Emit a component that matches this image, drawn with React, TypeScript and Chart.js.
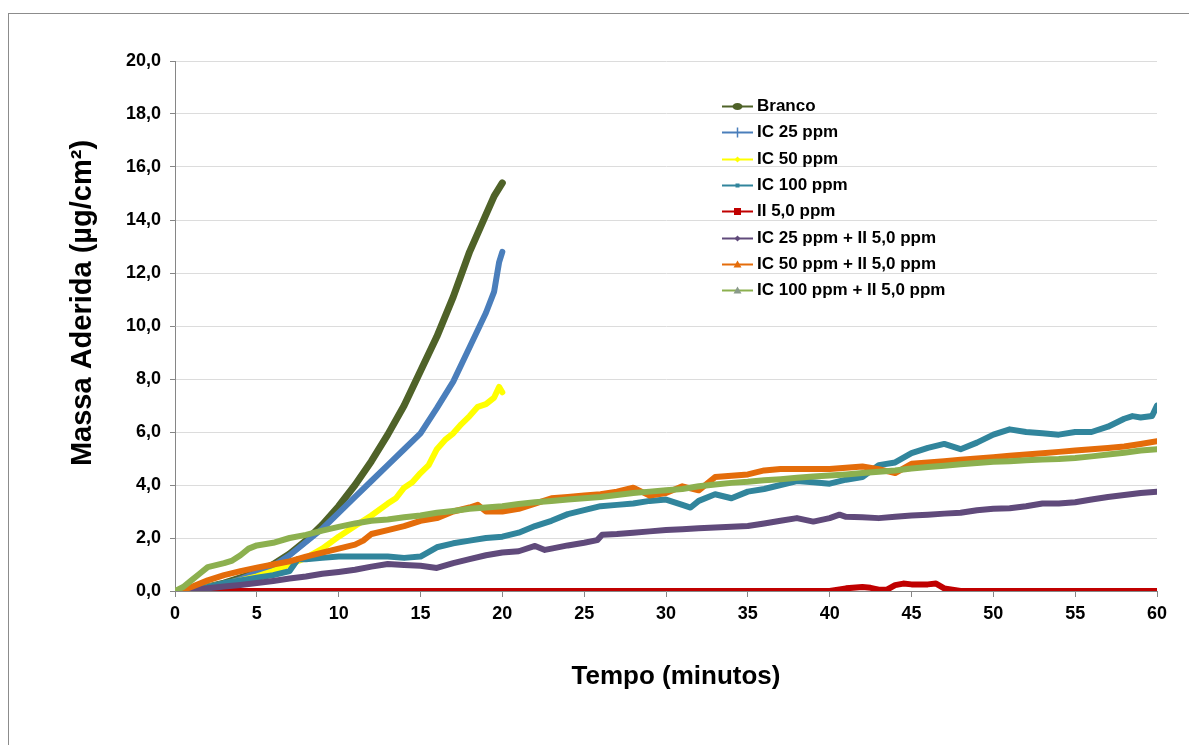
import React, { useEffect, useRef } from "react";
import { Chart, registerables } from "chart.js";

Chart.register(...registerables);

const FONT = "'Liberation Sans', Arial, Helvetica, sans-serif";
const W = 1181;
const H = 737;

// ---- data (minutes, µg/cm²) ----
const seriesLabels = [
  "Branco",
  "IC 25 ppm",
  "IC 50 ppm",
  "IC 100 ppm",
  "II 5,0 ppm",
  "IC 25 ppm + II 5,0 ppm",
  "IC 50 ppm + II 5,0 ppm",
  "IC 100 ppm + II 5,0 ppm",
];

const brancoT = [0.5, 1, 2, 3, 4, 5, 6, 7, 8, 9, 10, 11, 12, 13, 14, 15, 16, 17, 18, 19, 19.5, 20];
const brancoV = [0, 0.05, 0.15, 0.3, 0.5, 0.7, 1.0, 1.4, 1.9, 2.5, 3.2, 4.0, 4.9, 5.9, 7.0, 8.3, 9.6, 11.1, 12.8, 14.2, 14.9, 15.4];

const ic25T = [0.7, 1, 2, 3, 4, 5, 6, 7, 8, 9, 10, 11, 12, 13, 14, 15, 16, 17, 18, 19, 19.5, 19.8, 20];
const ic25V = [-0.15, -0.05, 0.1, 0.25, 0.45, 0.7, 0.95, 1.35, 1.85, 2.35, 2.95, 3.55, 4.15, 4.75, 5.35, 5.95, 6.9, 7.9, 9.2, 10.5, 11.3, 12.4, 12.8];

const ic50T = [0.5, 1, 2, 3, 4, 5, 6, 7, 8, 9, 10, 11, 12, 13, 13.5, 14, 14.5, 15, 15.5, 16, 16.5, 17, 17.5, 18, 18.5, 19, 19.5, 19.8, 20];
const ic50V = [0, 0.05, 0.15, 0.28, 0.4, 0.55, 0.75, 1.0, 1.25, 1.6, 2.05, 2.45, 2.85, 3.3, 3.5, 3.9, 4.1, 4.45, 4.75, 5.35, 5.7, 5.95, 6.3, 6.6, 6.95, 7.05, 7.3, 7.7, 7.5];

const ic100T = [0, 1, 2, 3, 4, 5, 6, 7, 7.5, 8, 9, 10, 11, 12, 13, 14, 15, 16, 17, 18, 19, 20, 21, 22, 23, 24, 25, 26, 27, 28, 29, 30, 31, 31.5, 32, 33, 34, 35, 36, 37, 38, 39, 40, 41, 42, 43, 44, 45, 46, 47, 48, 49, 50, 51, 52, 53, 54, 55, 56, 57, 58, 58.5, 59, 59.7, 60];
const ic100V = [0, 0.05, 0.15, 0.3, 0.4, 0.5, 0.6, 0.75, 1.2, 1.2, 1.25, 1.3, 1.3, 1.3, 1.3, 1.25, 1.3, 1.65, 1.8, 1.9, 2.0, 2.05, 2.2, 2.45, 2.65, 2.9, 3.05, 3.2, 3.25, 3.3, 3.4, 3.45, 3.25, 3.15, 3.4, 3.65, 3.5, 3.75, 3.85, 4.0, 4.15, 4.1, 4.05, 4.2, 4.3, 4.75, 4.85, 5.2, 5.4, 5.55, 5.35, 5.6, 5.9, 6.1, 6.0, 5.95, 5.9, 6.0, 6.0, 6.2, 6.5, 6.6, 6.55, 6.6, 7.0];

const ii5T = [0, 40, 40.5, 41, 42, 42.5, 43, 43.5, 44, 44.5, 45, 46, 46.5, 47, 47.5, 48, 60];
const ii5V = [0, 0, 0.05, 0.1, 0.15, 0.12, 0.05, 0.05, 0.22, 0.28, 0.25, 0.25, 0.28, 0.1, 0.05, 0, 0];

const ic25iiT = [0.5, 1, 2, 3, 4, 5, 6, 7, 8, 9, 10, 11, 12, 13, 14, 15, 16, 17, 18, 19, 20, 21, 22, 22.6, 23, 24, 25, 25.8, 26.1, 27, 28, 29, 30, 31, 32, 33, 34, 35, 36, 37, 38, 39, 40, 40.6, 41, 42, 43, 44, 45, 46, 47, 48, 49, 50, 51, 52, 53, 54, 55, 56, 57, 58, 59, 60];
const ic25iiV = [0, 0.03, 0.1, 0.17, 0.23, 0.3, 0.38, 0.47, 0.55, 0.65, 0.72, 0.8, 0.92, 1.02, 0.98, 0.95, 0.87, 1.05, 1.2, 1.35, 1.45, 1.5, 1.7, 1.55, 1.6, 1.72, 1.82, 1.92, 2.12, 2.15, 2.2, 2.25, 2.3, 2.33, 2.37, 2.4, 2.42, 2.45, 2.55, 2.65, 2.75, 2.62, 2.75, 2.88, 2.8, 2.78, 2.75, 2.8, 2.85, 2.88, 2.92, 2.95, 3.05, 3.1, 3.12, 3.2, 3.3, 3.3, 3.35, 3.45, 3.55, 3.62, 3.7, 3.75];

const ic50iiT = [0.3, 1, 2, 3, 4, 5, 6, 7, 8, 9, 10, 11, 11.5, 12, 13, 14, 15, 16, 17, 18, 18.5, 19, 20, 21, 22, 23, 24, 25, 26, 27, 28, 29, 30, 31, 32, 33, 34, 35, 36, 37, 38, 39, 40, 41, 42, 43, 44, 45, 46, 47, 48, 49, 50, 51, 52, 53, 54, 55, 56, 57, 58, 59, 60];
const ic50iiV = [0, 0.15, 0.4, 0.6, 0.75, 0.88, 1.0, 1.12, 1.3, 1.45, 1.6, 1.75, 1.9, 2.15, 2.3, 2.45, 2.65, 2.75, 3.0, 3.15, 3.25, 3.0, 3.0, 3.1, 3.3, 3.5, 3.55, 3.6, 3.65, 3.75, 3.9, 3.6, 3.7, 3.95, 3.8, 4.3, 4.35, 4.4, 4.55, 4.6, 4.6, 4.6, 4.6, 4.65, 4.7, 4.6, 4.45, 4.8, 4.85, 4.9, 4.95, 5.0, 5.05, 5.1, 5.15, 5.2, 5.25, 5.3, 5.35, 5.4, 5.45, 5.55, 5.65];

const ic100iiT = [0, 0.5, 1, 1.5, 2, 3, 3.5, 4, 4.5, 5, 6, 7, 8, 9, 10, 11, 12, 13, 14, 15, 16, 17, 18, 19, 20, 21, 22, 23, 24, 25, 26, 27, 28, 29, 30, 31, 32, 33, 34, 35, 36, 37, 38, 39, 40, 41, 42, 43, 44, 45, 46, 47, 48, 49, 50, 51, 52, 53, 54, 55, 56, 57, 58, 59, 60];
const ic100iiV = [0, 0.15, 0.4, 0.65, 0.9, 1.05, 1.15, 1.35, 1.6, 1.72, 1.82, 2.0, 2.12, 2.28, 2.42, 2.55, 2.65, 2.7, 2.78, 2.85, 2.95, 3.02, 3.1, 3.15, 3.2, 3.28, 3.35, 3.4, 3.45, 3.5, 3.55, 3.62, 3.7, 3.75, 3.8, 3.85, 3.95, 4.02, 4.08, 4.12, 4.18, 4.22, 4.27, 4.32, 4.36, 4.4, 4.45, 4.5, 4.55, 4.62, 4.68, 4.73, 4.78, 4.83, 4.88, 4.9, 4.93, 4.96, 4.98, 5.02, 5.08, 5.15, 5.22, 5.3, 5.35];

const seriesTimes = [brancoT, ic25T, ic50T, ic100T, ii5T, ic25iiT, ic50iiT, ic100iiT];
const seriesValues = [brancoV, ic25V, ic50V, ic100V, ii5V, ic25iiV, ic50iiV, ic100iiV];

const xTickStep = 5;
const yTickStep = 2;

// ---- styles ----
const colors = ["#4F6228", "#4A7EBB", "#FFFF00", "#31859C", "#C00000", "#604A7B", "#E46C0A", "#8CB04F"];
const lineWidths = [7, 6, 6, 6, 6, 6, 6, 6];
const markerShapes = ["ellipse", "plus", "diamond", "square", "bigsquare", "diamond", "triangle", "triangleGray"];

function drawMarker(ctx: CanvasRenderingContext2D, shape: string, x: number, y: number, color: string) {
  ctx.save();
  ctx.fillStyle = color;
  ctx.strokeStyle = color;
  ctx.beginPath();
  if (shape === "ellipse") {
    ctx.ellipse(x, y, 5, 3.5, 0, 0, Math.PI * 2);
    ctx.fill();
  } else if (shape === "plus") {
    ctx.lineWidth = 1.5;
    ctx.moveTo(x, y - 5);
    ctx.lineTo(x, y + 5);
    ctx.stroke();
  } else if (shape === "diamond") {
    ctx.moveTo(x, y - 3);
    ctx.lineTo(x + 3, y);
    ctx.lineTo(x, y + 3);
    ctx.lineTo(x - 3, y);
    ctx.closePath();
    ctx.fill();
  } else if (shape === "square") {
    ctx.rect(x - 2, y - 2, 4, 4);
    ctx.fill();
  } else if (shape === "bigsquare") {
    ctx.rect(x - 3.5, y - 3.5, 7, 7);
    ctx.fill();
  } else if (shape === "triangle") {
    ctx.moveTo(x, y - 4);
    ctx.lineTo(x + 4, y + 3);
    ctx.lineTo(x - 4, y + 3);
    ctx.closePath();
    ctx.fill();
  } else if (shape === "triangleGray") {
    ctx.fillStyle = "#8A9A8A";
    ctx.moveTo(x, y - 4);
    ctx.lineTo(x + 4, y + 3);
    ctx.lineTo(x - 4, y + 3);
    ctx.closePath();
    ctx.fill();
  }
  ctx.restore();
}

const decorPlugin = {
  id: "decor",
  afterDraw(chart: any) {
    const ctx: CanvasRenderingContext2D = chart.ctx;
    ctx.save();
    // outer frame (only top & left visible)
    ctx.strokeStyle = "#8C8C8C";
    ctx.lineWidth = 1;
    ctx.strokeRect(0.5, 5.5, W + 20, H + 20);

    // axis titles
    ctx.fillStyle = "#000";
    ctx.textAlign = "center";
    ctx.textBaseline = "middle";
    ctx.font = `bold 26px ${FONT}`;
    ctx.fillText("Tempo (minutos)", 668, 669);

    ctx.save();
    ctx.translate(75, 295);
    ctx.rotate(-Math.PI / 2);
    ctx.font = `bold 29px ${FONT}`;
    ctx.fillText("Massa Aderida (\u00B5g/cm\u00B2)", 0, 0);
    ctx.restore();

    // legend
    const x0 = 714;
    const x1 = 745;
    const y0 = 98;
    const dy = 26.3;
    chart.data.datasets.forEach((ds: any, i: number) => {
      const y = Math.round(y0 + i * dy) + 0.5;
      ctx.strokeStyle = ds.borderColor;
      ctx.lineWidth = 2;
      ctx.beginPath();
      ctx.moveTo(x0, y);
      ctx.lineTo(x1, y);
      ctx.stroke();
      drawMarker(ctx, markerShapes[i], (x0 + x1) / 2, y, ds.borderColor);
      ctx.fillStyle = "#000";
      ctx.textAlign = "left";
      ctx.textBaseline = "middle";
      ctx.font = `bold 17px ${FONT}`;
      ctx.fillText(ds.label, x1 + 4, y);
    });
    ctx.restore();
  },
};

export default function App() {
  const ref = useRef<HTMLCanvasElement | null>(null);

  useEffect(() => {
    if (!ref.current) return;
    const datasets = seriesLabels.map((label, i) => ({
      label,
      data: seriesTimes[i].map((t, k) => ({ x: t, y: seriesValues[i][k] })),
      borderColor: colors[i],
      backgroundColor: colors[i],
      borderWidth: lineWidths[i],
      pointRadius: 0,
      tension: 0,
      fill: false,
      borderJoinStyle: "round" as const,
      borderCapStyle: "round" as const,
      order: seriesLabels.length - 1 - i,
    }));

    const chart = new Chart(ref.current, {
      type: "line",
      data: { datasets },
      plugins: [decorPlugin],
      options: {
        animation: false,
        responsive: false,
        devicePixelRatio: 1,
        layout: { padding: { left: 0, top: 53, right: 32, bottom: 0 } },
        plugins: { legend: { display: false }, tooltip: { enabled: false } },
        scales: {
          x: {
            type: "linear",
            min: 0,
            max: 60,
            ticks: {
              stepSize: xTickStep,
              color: "#000",
              padding: 6,
              maxRotation: 0,
              font: { family: FONT, size: 18, weight: "bold" },
            },
            grid: { drawOnChartArea: false, drawTicks: true, tickLength: 6, tickColor: "#868686" },
            border: { color: "#868686", width: 1 },
            afterFit(scale: any) {
              scale.height = 154;
            },
          },
          y: {
            type: "linear",
            min: 0,
            max: 20,
            ticks: {
              stepSize: yTickStep,
              color: "#000",
              padding: 9,
              font: { family: FONT, size: 18, weight: "bold" },
              callback: (v: any) => Number(v).toFixed(1).replace(".", ","),
            },
            grid: { color: "#DCDCDC", tickColor: "#868686", tickLength: 5 },
            border: { color: "#868686", width: 1 },
            afterFit(scale: any) {
              scale.width = 167;
            },
          },
        },
      },
    });
    return () => chart.destroy();
  }, []);

  return (
    <div style={{ width: W, height: H }}>
      <canvas ref={ref} width={W} height={H} style={{ display: "block", width: W, height: H }} />
    </div>
  );
}
